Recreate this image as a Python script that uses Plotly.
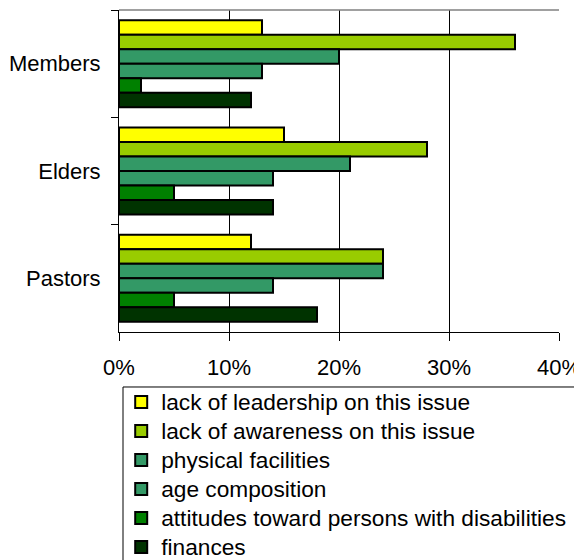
import plotly.graph_objects as go

categories = ["Members", "Elders", "Pastors"]
series_names = [
    "lack of leadership on this issue",
    "lack of awareness on this issue",
    "physical facilities",
    "age composition",
    "attitudes toward persons with disabilities",
    "finances",
]
leadership = [0.13, 0.15, 0.12]
awareness = [0.36, 0.28, 0.24]
facilities = [0.20, 0.21, 0.24]
age = [0.13, 0.14, 0.14]
attitudes = [0.02, 0.05, 0.05]
finances = [0.12, 0.14, 0.18]
series_values = [leadership, awareness, facilities, age, attitudes, finances]
colors = ["#FFFF00", "#99CC00", "#339966", "#339966", "#008000", "#003300"]
x_ticks = [0, 0.1, 0.2, 0.3, 0.4]

FONT = "Liberation Sans, Arial, sans-serif"

fig = go.Figure()
for name, vals, col in zip(series_names, series_values, colors):
    label = '<span style="font-size:22.7px">' + name + '</span>'
    fig.add_trace(go.Bar(
        y=categories, x=vals, orientation="h",
        name=label,
        marker=dict(color=col, line=dict(color="black", width=2)),
    ))

fig.update_layout(
    width=574, height=552,
    margin=dict(l=111, r=23, t=2, b=228, autoexpand=False),
    paper_bgcolor="white", plot_bgcolor="white",
    barmode="group", bargap=0.19, bargroupgap=0,
    font=dict(family=FONT, size=22, color="black"),
    showlegend=True,
    legend=dict(
        x=0.005, y=-0.157, xanchor="left", yanchor="top",
        traceorder="normal", borderwidth=0,
        bgcolor="rgba(0,0,0,0)", font=dict(size=20, family=FONT),
    ),
    xaxis=dict(
        range=[0, 0.4], tickvals=x_ticks, tickformat=".0%",
        showgrid=True, gridcolor="black", gridwidth=1,
        showline=True, linecolor="black", linewidth=1,
        ticks="outside", ticklen=8, tickcolor="black",
        zeroline=False, ticklabelstandoff=8,
    ),
    yaxis=dict(
        autorange="reversed", showline=True, linecolor="black", linewidth=1,
        ticks="outside", ticklen=7, tickcolor="black", tickson="boundaries",
        showgrid=False, ticklabelstandoff=13,
    ),
    shapes=[
        dict(type="line", xref="paper", yref="paper", x0=0, x1=1, y0=1, y1=1,
             line=dict(color="#808080", width=1.5)),
        # legend frame (right and bottom sides lie beyond the picture, as in the reference)
        dict(type="rect", xref="paper", yref="paper", x0=0.0091, x1=1.3,
             y0=-0.9, y1=-0.1708, line=dict(color="black", width=1),
             fillcolor="rgba(0,0,0,0)", layer="above"),
    ],
)

fig.write_html("out.html")
